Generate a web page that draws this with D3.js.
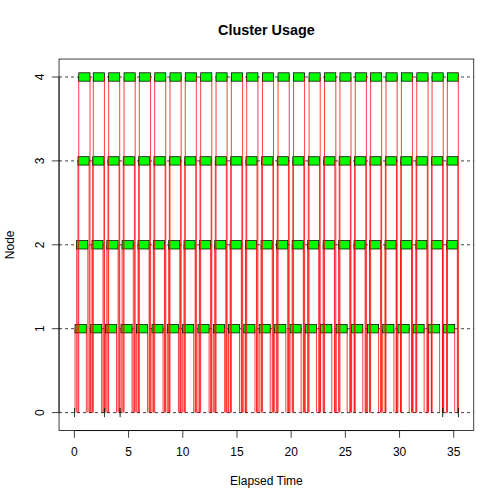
<!DOCTYPE html>
<html><head><meta charset="utf-8">
<script src="https://cdn.jsdelivr.net/npm/d3@7"></script>
<style>body{margin:0;background:#fff}svg{display:block}</style>
</head><body>
<script>
// ---- data ----
const nodeIds = [1, 2, 3, 4];
const yTicks = [0, 1, 2, 3, 4];
const xTicks = [0, 5, 10, 15, 20, 25, 30, 35];
const elapsed = 35.43;
const titleText = "Cluster Usage";
const xLabel = "Elapsed Time";
const yLabel = "Node";

// task start times (computation start) per worker node
const node1Start = [0.06,1.50,2.86,4.30,5.72,7.16,8.57,9.99,11.40,12.82,14.22,15.63,17.05,18.48,19.90,21.30,22.72,24.15,25.58,27.05,28.45,29.85,31.25,32.67,34.07];
const node2Start = [0.21,1.62,2.99,4.40,5.87,7.28,8.70,10.11,11.53,12.95,14.37,15.78,17.22,18.66,20.09,21.52,22.95,24.38,25.80,27.23,28.66,30.09,31.51,32.93,34.35];
const node3Start = [0.33,1.69,3.10,4.51,5.93,7.34,8.76,10.18,11.59,13.00,14.42,15.83,17.28,18.72,20.15,21.58,23.01,24.43,25.85,27.27,28.69,30.11,31.53,32.96,34.38];
const node4Start = [0.40,1.74,3.16,4.58,5.99,7.41,8.82,10.23,11.65,13.07,14.48,15.90,17.35,18.79,20.22,21.65,23.08,24.50,25.91,27.33,28.75,30.17,31.59,33.00,34.41];
// computation durations per worker node
const node1Dur = [1.04,1.02,1.03,1.02,1.03,1.02,1.03,1.02,1.03,1.04,1.02,1.03,1.02,1.03,1.02,1.04,1.03,1.02,1.03,1.02,1.03,1.04,1.02,1.03,1.02];
const node2Dur = [1.03,1.02,1.04,1.03,1.02,1.03,1.02,1.03,1.04,1.02,1.03,1.02,1.03,1.02,1.03,1.02,1.04,1.03,1.02,1.03,1.02,1.03,1.02,1.03,0.98];
const node3Dur = [1.03,1.04,1.02,1.03,1.02,1.03,1.04,1.02,1.03,1.02,1.03,1.02,1.04,1.03,1.02,1.03,1.02,1.03,1.04,1.02,1.03,1.02,1.03,1.02,1.01];
const node4Dur = [1.04,1.03,1.02,1.03,1.04,1.02,1.03,1.02,1.03,1.02,1.04,1.03,1.02,1.03,1.02,1.03,1.04,1.02,1.03,1.02,1.03,1.02,1.04,1.03,1.01];
// master marks at node 0
const masterStart = [0.00, 2.76, 4.21, 33.98, 35.42];
const masterEnd   = [0.01, 2.77, 4.22, 33.99, 35.43];
const boxHalf = 0.05;

// ---- drawing ----
const W = 504, H = 504;
const L = 59.04, R = 473.76, T = 59.04, B = 430.56;
const svg = d3.select("body").append("svg").attr("width", W).attr("height", H)
  .style("font-family", "'Liberation Sans', Arial, Helvetica, sans-serif");

const x = d3.scaleLinear().domain([-0.04 * elapsed, 1.04 * elapsed]).range([L, R]);
const yMin = -boxHalf, yMax = 4 + boxHalf, yr = yMax - yMin;
const y = d3.scaleLinear().domain([yMin - 0.04 * yr, yMax + 0.04 * yr]).range([B, T]);

// box
svg.append("rect").attr("x", L).attr("y", T).attr("width", R - L).attr("height", B - T)
  .attr("fill", "none").attr("stroke", "#000").attr("stroke-width", 0.75);

// x axis
const gx = svg.append("g").attr("transform", `translate(0,${B})`)
  .call(d3.axisBottom(x).tickValues(xTicks).tickFormat(d3.format("d")).tickSize(7.2).tickSizeOuter(0).offset(0));
gx.select(".domain").attr("d", `M${x(xTicks[0])},0H${x(xTicks[xTicks.length-1])}`)
  .attr("stroke-width", 0.75);
gx.selectAll(".tick line").attr("stroke-width", 0.75);
gx.selectAll(".tick text").attr("y", 0).attr("dy", null).attr("transform", "translate(0,25.6)")
  .style("font-size", "12px").attr("fill", "#000");

// y axis
const gy = svg.append("g").attr("transform", `translate(${L},0)`)
  .call(d3.axisLeft(y).tickValues(yTicks).tickFormat(d3.format("d")).tickSize(7.2).tickSizeOuter(0).offset(0));
gy.select(".domain").attr("d", `M0,${y(yTicks[0])}V${y(yTicks[yTicks.length-1])}`)
  .attr("stroke-width", 0.75);
gy.selectAll(".tick line").attr("stroke-width", 0.75);
gy.selectAll(".tick text").attr("x", 0).attr("dy", null).attr("text-anchor", "middle")
  .attr("transform", "translate(-15.4,0) rotate(-90)")
  .style("font-size", "12px").attr("fill", "#000");

// titles
svg.append("text").attr("x", (L + R) / 2).attr("y", 35).attr("text-anchor", "middle")
  .style("font-size", "14.4px").style("font-weight", "bold").text(titleText);
svg.append("text").attr("x", (L + R) / 2).attr("y", 484.8).attr("text-anchor", "middle")
  .style("font-size", "12px").text(xLabel);
svg.append("text").attr("transform", `translate(13.8,${(T + B) / 2}) rotate(-90)`)
  .attr("text-anchor", "middle").style("font-size", "12px").text(yLabel);

const plot = svg.append("g");
// dashed node lines
plot.selectAll("line.node").data(nodeIds).enter().append("line")
  .attr("x1", L).attr("x2", R).attr("y1", d => y(d)).attr("y2", d => y(d))
  .attr("stroke", "#000").attr("stroke-width", 0.75).attr("stroke-dasharray", "3,3");

const starts = [node1Start, node2Start, node3Start, node4Start];
const durs = [node1Dur, node2Dur, node3Dur, node4Dur];
nodeIds.forEach((n, k) => {
  const tasks = starts[k].map((s, j) => ({ s, e: s + durs[k][j], n }));
  const g = plot.append("g");
  g.selectAll("line.send").data(tasks).enter().append("line")
    .attr("x1", d => x(d.s)).attr("x2", d => x(d.s)).attr("y1", y(0)).attr("y2", d => y(d.n))
    .attr("stroke", "#ff0000").attr("stroke-width", 0.75);
  g.selectAll("rect").data(tasks).enter().append("rect")
    .attr("x", d => x(d.s)).attr("width", d => x(d.e) - x(d.s))
    .attr("y", d => y(d.n + boxHalf)).attr("height", d => y(d.n - boxHalf) - y(d.n + boxHalf))
    .attr("fill", "#00ff00").attr("stroke", "#000").attr("stroke-width", 0.75);
  g.selectAll("line.recv").data(tasks).enter().append("line")
    .attr("x1", d => x(d.e)).attr("x2", d => x(d.e)).attr("y1", d => y(d.n)).attr("y2", y(0))
    .attr("stroke", "#ff0000").attr("stroke-width", 0.75);
});

// master line and marks
plot.append("line").attr("x1", L).attr("x2", R).attr("y1", y(0)).attr("y2", y(0))
  .attr("stroke", "#000").attr("stroke-width", 0.75).attr("stroke-dasharray", "3,3");
plot.selectAll("rect.master").data(masterStart.map((s, i) => ({ s, e: masterEnd[i] }))).enter()
  .append("rect").attr("class", "master")
  .attr("x", d => x(d.s)).attr("width", d => x(d.e) - x(d.s))
  .attr("y", y(boxHalf)).attr("height", y(-boxHalf) - y(boxHalf))
  .attr("fill", "#00ff00").attr("stroke", "#000").attr("stroke-width", 0.75);
</script>
</body></html>
